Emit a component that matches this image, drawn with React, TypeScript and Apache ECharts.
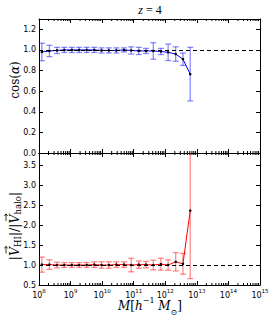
import React, { useEffect, useRef } from "react";
import * as echarts from "echarts";

// log10 of halo mass bin centres [h^-1 Msun]
const logMass = [8.09, 8.33, 8.57, 8.8, 9.04, 9.27, 9.51, 9.75, 9.98, 10.21, 10.45, 10.69, 10.92, 11.16, 11.39, 11.62, 11.86, 12.09, 12.33, 12.56, 12.79];
const cosAlpha = [0.98, 0.99, 0.995, 1.0, 1.0, 1.0, 1.0, 1.0, 0.995, 0.995, 0.995, 1.0, 0.995, 0.99, 0.99, 0.99, 0.985, 0.977, 0.96, 0.91, 0.765];
const cosAlphaErr = [0.085, 0.055, 0.03, 0.025, 0.025, 0.025, 0.025, 0.025, 0.025, 0.025, 0.025, 0.02, 0.035, 0.035, 0.025, 0.08, 0.03, 0.08, 0.07, 0.06, 0.26];
const velRatio = [1.01, 1.01, 1.0, 1.0, 1.0, 1.0, 1.0, 1.01, 1.0, 1.0, 1.01, 1.01, 1.0, 1.01, 1.01, 1.0, 1.02, 1.0, 1.08, 1.03, 2.36];
const velRatioErr = [0.19, 0.12, 0.07, 0.06, 0.06, 0.06, 0.06, 0.07, 0.08, 0.08, 0.07, 0.07, 0.17, 0.09, 0.08, 0.12, 0.15, 0.13, 0.23, 0.26, 1.7];
const referenceLevel = 1.0;
const minorMultipliers = [2, 3, 4, 5, 6, 7, 8, 9];
const minorDecades = [8, 9, 10, 11, 12, 13, 14];

const X_MIN = 1e8;
const X_MAX = 1e15;
const TOP_Y = { min: 0, max: 1.3, interval: 0.2 };
const BOT_Y = { min: 0.5, max: 3.8, interval: 0.5 };

const SANS = "DejaVu Sans";
const SERIF = "DejaVu Serif";

export default function App() {
  const ref = useRef<HTMLDivElement>(null);

  useEffect(() => {
    if (!ref.current) return;
    const chart = echarts.init(ref.current, null, { renderer: "svg" });

    const masses = logMass.map((l) => Math.pow(10, l));
    const minorVals: number[] = [];
    minorDecades.forEach((d) => minorMultipliers.forEach((m) => minorVals.push(m * Math.pow(10, d))));

    const xAxis = (gridIndex: number, position: string, showLabel: boolean) => ({
      type: "log",
      logBase: 10,
      min: X_MIN,
      max: X_MAX,
      splitNumber: 7,
      gridIndex,
      position,
      axisLine: { show: true, onZero: false, lineStyle: { color: "#000", width: 1 } },
      axisTick: { show: true, inside: true, length: 4, lineStyle: { color: "#000", width: 1 } },
      splitLine: { show: false },
      axisLabel: {
        show: showLabel,
        margin: 3,
        showMinLabel: true,
        showMaxLabel: true,
        formatter: (v: number) => `{b|10}{s|${Math.round(Math.log10(v))}}`,
        rich: {
          b: { fontSize: 8, fontFamily: SANS, color: "#000", lineHeight: 14, verticalAlign: "middle" },
          s: { fontSize: 5.5, fontFamily: SANS, color: "#000", lineHeight: 6, verticalAlign: "top" },
        },
      },
    });

    const yAxis = (gridIndex: number, position: string, showLabel: boolean, cfg: any) => ({
      type: "value",
      gridIndex,
      position,
      min: cfg.min,
      max: cfg.max,
      interval: cfg.interval,
      axisLine: { show: true, onZero: false, lineStyle: { color: "#000", width: 1 } },
      axisTick: { show: true, inside: true, length: 4, lineStyle: { color: "#000", width: 1 } },
      splitLine: { show: false },
      axisLabel: {
        show: showLabel,
        margin: 3,
        fontSize: 8,
        fontFamily: SANS,
        color: "#000",
        showMaxLabel: false,
        formatter: (v: number) => v.toFixed(1),
      },
    });

    const errorBars = (xi: number, yi: number, vals: number[], errs: number[], color: string) => ({
      type: "custom",
      xAxisIndex: xi,
      yAxisIndex: yi,
      clip: true,
      silent: true,
      z: 2,
      data: masses.map((m, i) => [m, vals[i], errs[i]]),
      encode: { x: 0, y: 1 },
      renderItem: (params: any, api: any) => {
        const x = api.value(0);
        const y = api.value(1);
        const e = api.value(2);
        const top = api.coord([x, y + e]);
        const bot = api.coord([x, y - e]);
        const hw = 3;
        const style = { stroke: color, lineWidth: 1.3 };
        return {
          type: "group",
          children: [
            { type: "line", shape: { x1: top[0], y1: top[1], x2: bot[0], y2: bot[1] }, style },
            { type: "line", shape: { x1: top[0] - hw, y1: top[1], x2: top[0] + hw, y2: top[1] }, style },
            { type: "line", shape: { x1: bot[0] - hw, y1: bot[1], x2: bot[0] + hw, y2: bot[1] }, style },
          ],
        };
      },
    });

    const lineSeries = (xi: number, yi: number, vals: number[], color: string) => ({
      type: "line",
      xAxisIndex: xi,
      yAxisIndex: yi,
      z: 3,
      silent: true,
      data: masses.map((m, i) => [m, vals[i]]),
      lineStyle: { color, width: 1 },
      symbol: "circle",
      symbolSize: 2.5,
      showSymbol: true,
      itemStyle: { color: "#000", borderWidth: 0 },
      markLine: {
        silent: true,
        symbol: ["none", "none"],
        label: { show: false },
        lineStyle: { color: "#000", type: [4, 3], width: 1 },
        data: [{ yAxis: referenceLevel }],
      },
    });

    const minorTicks = (xi: number, yi: number, cfg: any) => ({
      type: "custom",
      xAxisIndex: xi,
      yAxisIndex: yi,
      silent: true,
      z: 4,
      data: minorVals.map((v) => [v, cfg.min]),
      encode: { x: 0, y: 1 },
      renderItem: (params: any, api: any) => {
        const x = api.value(0);
        const b = api.coord([x, cfg.min]);
        const t = api.coord([x, cfg.max]);
        const style = { stroke: "#000", lineWidth: 1 };
        return {
          type: "group",
          children: [
            { type: "line", shape: { x1: b[0], y1: b[1], x2: b[0], y2: b[1] - 2 }, style },
            { type: "line", shape: { x1: t[0], y1: t[1], x2: t[0], y2: t[1] + 2 }, style },
          ],
        };
      },
    });

    const mathRich = {
      r: { fontFamily: SERIF, fontSize: 12, color: "#000", lineHeight: 20, verticalAlign: "middle" },
      i: { fontFamily: SERIF, fontSize: 12, fontStyle: "italic", color: "#000", lineHeight: 20, verticalAlign: "middle" },
      sub: { fontFamily: SERIF, fontSize: 8, color: "#000", verticalAlign: "bottom", lineHeight: 9 },
      sup: { fontFamily: SERIF, fontSize: 8, color: "#000", verticalAlign: "top", lineHeight: 10 },
    };

    // Build the |V_HI| / |V_halo| label as positioned pieces (with vector arrows over V)
    const canvas = document.createElement("canvas");
    const ctx = canvas.getContext("2d") as CanvasRenderingContext2D;
    const measure = (text: string, size: number, italic: boolean) => {
      ctx.font = `${italic ? "italic " : ""}${size}px "${SERIF}"`;
      return ctx.measureText(text).width;
    };
    const MAIN = 12.5;
    const SUB = 8.5;
    const pieces = [
      { t: "|", s: MAIN, it: false, dy: 0, arrow: false },
      { t: "V", s: MAIN, it: true, dy: 0, arrow: true },
      { t: "HI", s: SUB, it: false, dy: 4, arrow: false },
      { t: "|/|", s: MAIN, it: false, dy: 0, arrow: false },
      { t: "V", s: MAIN, it: true, dy: 0, arrow: true },
      { t: "halo", s: SUB, it: false, dy: 4, arrow: false },
      { t: "|", s: MAIN, it: false, dy: 0, arrow: false },
    ];
    const widths = pieces.map((p) => measure(p.t, p.s, p.it));
    const total = widths.reduce((a, b) => a + b, 0);
    let cx = -total / 2;
    const labelChildren: any[] = [];
    pieces.forEach((p, k) => {
      labelChildren.push({
        type: "text",
        x: cx,
        y: p.dy,
        style: {
          text: p.t,
          fontFamily: SERIF,
          fontSize: p.s,
          fontStyle: p.it ? "italic" : "normal",
          fill: "#000",
          align: "left",
          verticalAlign: "middle",
        },
      });
      if (p.arrow) {
        const ax = cx + widths[k] / 2 + 1.5;
        const ay = -8;
        labelChildren.push({
          type: "line",
          shape: { x1: ax - 3.5, y1: ay, x2: ax + 3.5, y2: ay },
          style: { stroke: "#000", lineWidth: 0.8 },
        });
        labelChildren.push({
          type: "polyline",
          shape: { points: [[ax + 1.5, ay - 1.6], [ax + 3.6, ay], [ax + 1.5, ay + 1.6]] },
          style: { stroke: "#000", lineWidth: 0.8, fill: null },
        });
      }
      cx += widths[k];
    });

    chart.setOption({
      animation: false,
      backgroundColor: "#fff",
      grid: [
        { left: 39, right: 14, top: 19, height: 134 },
        { left: 39, right: 14, top: 153, height: 132 },
      ],
      xAxis: [
        xAxis(0, "bottom", false),
        xAxis(0, "top", false),
        xAxis(1, "bottom", true),
        xAxis(1, "top", false),
      ],
      yAxis: [
        yAxis(0, "left", true, TOP_Y),
        yAxis(0, "right", false, TOP_Y),
        yAxis(1, "left", true, BOT_Y),
        yAxis(1, "right", false, BOT_Y),
      ],
      series: [
        errorBars(0, 0, cosAlpha, cosAlphaErr, "rgba(0,0,255,0.45)"),
        lineSeries(0, 0, cosAlpha, "#0000ff"),
        errorBars(2, 2, velRatio, velRatioErr, "rgba(255,0,0,0.45)"),
        lineSeries(2, 2, velRatio, "#ff0000"),
        minorTicks(0, 0, TOP_Y),
        minorTicks(2, 2, BOT_Y),
      ],
      graphic: [
        {
          type: "text",
          x: 150,
          y: 10,
          style: {
            text: "{i|z}{r| = 4}",
            rich: {
              i: { fontFamily: "Liberation Serif", fontSize: 12, fontStyle: "italic", color: "#000" },
              r: { fontFamily: "Liberation Serif", fontSize: 12, color: "#000" },
            },
            align: "center",
            verticalAlign: "middle",
          },
        },
        {
          type: "text",
          x: 15,
          y: 80,
          rotation: Math.PI / 2,
          style: {
            text: "{r|cos(}{i|α}{r|)}",
            rich: mathRich,
            align: "center",
            verticalAlign: "middle",
          },
        },
        {
          type: "group",
          x: 14,
          y: 226,
          rotation: Math.PI / 2,
          children: labelChildren,
        },
        {
          type: "text",
          x: 150,
          y: 306,
          style: {
            text: "{i|M}{r|[}{i|h}{sup|−1}{i| M}{sub|⊙}{r|]}",
            rich: mathRich,
            align: "center",
            verticalAlign: "middle",
          },
        },
      ],
    });

    return () => chart.dispose();
  }, []);

  return <div ref={ref} style={{ position: "fixed", left: 0, top: 0, width: 274, height: 319 }} />;
}
